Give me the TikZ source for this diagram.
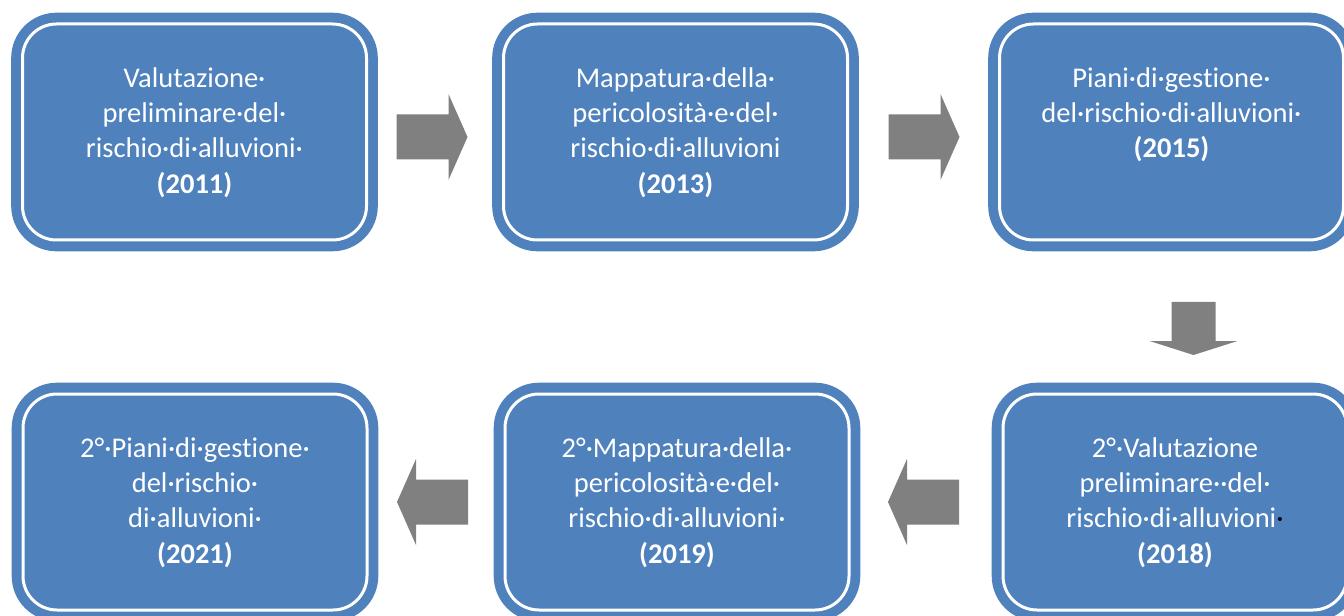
\documentclass[tikz,border=0pt]{standalone}
\usepackage{fontspec}
\setmainfont{Carlito}[Ligatures=NoCommon]
\usetikzlibrary{calc}
\definecolor{stageblue}{RGB}{79,129,189}
\definecolor{arrowgray}{RGB}{128,128,128}
\tikzset{
  stage/.style={draw=stageblue, double=white, double distance=2.25pt, line width=7.35pt,
    fill=stageblue, rounded corners=25.5pt, minimum width=258pt, minimum height=162pt,
    inner sep=0pt, outer sep=0pt},
  stagetext/.style={anchor=north, text=white, align=center, inner sep=0pt,
    font=\fontsize{21.4}{26.3}\selectfont},
  harrow/.pic={\fill[arrowgray] (0,-22.5) -- (52,-22.5) -- (52,-43) -- (71,0) -- (52,43) -- (52,22.5) -- (0,22.5) -- cycle;},
  varrow/.pic={\fill[arrowgray] (0,-22) -- (39,-22) -- (39,-44) -- (53,0) -- (39,44) -- (39,22) -- (0,22) -- cycle;}
}
\begin{document}
\begin{tikzpicture}[x=0.75pt,y=0.75pt,yscale=-1,xscale=1]
\useasboundingbox (0,0) rectangle (1344,616);

%Stages, top row
\node[stage] (b1) at (194.5,132) {};
\node[stage] (b2) at (675.5,132) {};
\node[stage] (b3) at (1171.5,132) {};
%Stages, bottom row
\node[stage] (b6) at (1175,502) {};
\node[stage] (b5) at (677,502) {};
\node[stage] (b4) at (195,502) {};

% Texts
\node[stagetext] (t1) at ($(b1.north)+(0,39)$) {\strut Valutazione·\\preliminare·del·\\rischio·di·alluvioni·\\\textbf{(2011)}};
\node[stagetext] (t2) at ($(b2.north)+(0,39)$) {\strut Mappatura·della·\\pericolosità·e·del·\\rischio·di·alluvioni\\\textbf{(2013)}};
\node[stagetext] (t3) at ($(b3.north)+(0,39)$) {\strut Piani·di·gestione·\\del·rischio·di·alluvioni·\\\textbf{(2015)}};
\node[stagetext] (t6) at ($(b6.north)+(0,39)$) {\strut 2°·Valutazione\\preliminare··del·\\rischio·di·alluvioni\textcolor{black}{·}\\\textbf{(2018)}};
\node[stagetext] (t5) at ($(b5.north)+(0,39)$) {\strut 2°·Mappatura·della·\\pericolosità·e·del·\\rischio·di·alluvioni·\\\textbf{(2019)}};
\node[stagetext] (t4) at ($(b4.north)+(0,39)$) {\strut 2°·Piani·di·gestione·\\del·rischio·\\di·alluvioni·\\\textbf{(2021)}};

% Block arrows
\pic (a12) at ($(b1.east)+(30,5)$) {harrow};
\pic (a23) at ($(b2.east)+(41,5)$) {harrow};
\pic[rotate=-90] (a36) at ($(b3.south)+(22,62)$) {varrow};
\pic[rotate=180] (a65) at ($(b6.west)+(-44,0)$) {harrow};
\pic[rotate=180] (a54) at ($(b5.west)+(-37,0)$) {harrow};

\end{tikzpicture}
\end{document}
